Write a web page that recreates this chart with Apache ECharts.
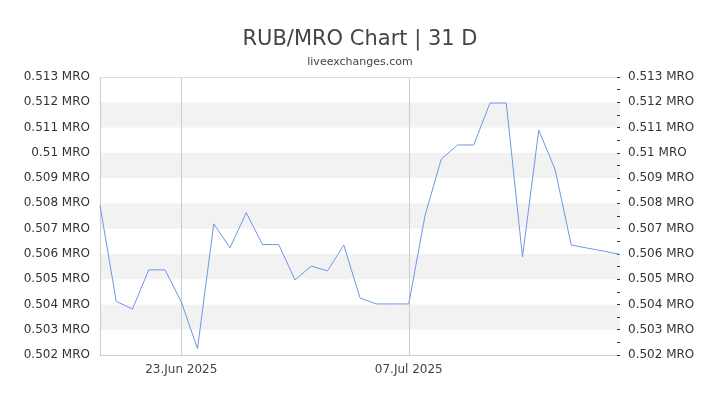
<!DOCTYPE html>
<html>
<head>
<meta charset="utf-8">
<script src="https://cdn.jsdelivr.net/npm/echarts@6/dist/echarts.min.js"></script>
<style>
html,body{margin:0;padding:0;background:#fff;}
#chart{width:720px;height:405px;}
</style>
</head>
<body>
<div id="chart"></div>
<script>
var dates = ['2025-06-18','2025-06-19','2025-06-20','2025-06-21','2025-06-22','2025-06-23','2025-06-24','2025-06-25','2025-06-26','2025-06-27','2025-06-28','2025-06-29','2025-06-30','2025-07-01','2025-07-02','2025-07-03','2025-07-04','2025-07-05','2025-07-06','2025-07-07','2025-07-08','2025-07-09','2025-07-10','2025-07-11','2025-07-12','2025-07-13','2025-07-14','2025-07-15','2025-07-16','2025-07-17','2025-07-18','2025-07-19','2025-07-20'];
var rates = [0.50792,0.50412,0.50382,0.50537,0.50537,0.50411,0.50225,0.50719,0.50624,0.50763,0.50637,0.50637,0.50497,0.50552,0.50533,0.50635,0.50426,0.50402,0.50402,0.50402,0.50752,0.50975,0.51031,0.51031,0.51197,0.51197,0.50588,0.51090,0.50935,0.50635,0.50623,0.50611,0.50598];
var tickLabels = {'2025-06-23':'23.Jun 2025','2025-07-07':'07.Jul 2025'};
var yMin = 0.502, yMax = 0.513, yStep = 0.001;
var unit = ' MRO';

var font = 'DejaVu Sans';
function fmt(v){ return (Math.round(v*1000)/1000) + unit; }
function isTick(i){ return tickLabels[dates[i]] !== undefined; }

var chart = echarts.init(document.getElementById('chart'));
chart.setOption({
  animation:false,
  title:{
    text:'RUB/MRO Chart | 31 D',
    subtext:'liveexchanges.com',
    left:'center', top:24, itemGap:7,
    textStyle:{fontFamily:font,fontSize:21,fontWeight:'normal',color:'#444'},
    subtextStyle:{fontFamily:font,fontSize:11,color:'#444'}
  },
  grid:{left:100,right:100,top:77,bottom:50},
  xAxis:[{
    type:'category', data:dates, boundaryGap:false,
    axisLine:{lineStyle:{color:'#ccc'}},
    axisTick:{show:false},
    axisLabel:{
      interval:function(i){return isTick(i);},
      formatter:function(v){return tickLabels[v]||'';},
      fontFamily:font,fontSize:12,color:'#444',margin:9
    },
    splitLine:{show:true,interval:function(i){return isTick(i);},lineStyle:{color:'#ccc',width:1}}
  },{
    type:'category', data:dates, boundaryGap:false, position:'top',
    axisLine:{show:true,lineStyle:{color:'#ddd'}},
    axisTick:{show:false}, axisLabel:{show:false}, splitLine:{show:false}
  }],
  yAxis:[{
    type:'value', min:yMin, max:yMax, interval:yStep,
    axisLine:{show:true,lineStyle:{color:'#ccc'}},
    axisTick:{show:false},
    axisLabel:{formatter:fmt,fontFamily:font,fontSize:12,color:'#333',margin:10},
    splitLine:{show:false},
    splitArea:{show:true,areaStyle:{color:['#ffffff','#f2f2f2']}}
  },{
    type:'value', min:yMin, max:yMax, interval:yStep, position:'right',
    axisLine:{show:false},
    axisTick:{show:true,inside:true,length:3,lineStyle:{color:'#333'}},
    minorTick:{show:true,splitNumber:2,length:3,lineStyle:{color:'#333'}},
    axisLabel:{formatter:fmt,fontFamily:font,fontSize:12,color:'#333',margin:8},
    splitLine:{show:false}
  }],
  series:[{
    type:'line', data:rates, xAxisIndex:0, yAxisIndex:0,
    showSymbol:false, symbol:'none',
    lineStyle:{color:'#6f98e8',width:1}
  }]
});
</script>
</body>
</html>
